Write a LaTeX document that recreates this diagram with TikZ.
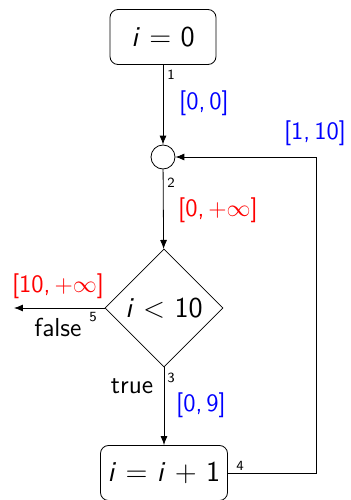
\documentclass[tikz,border=0pt]{standalone}
\usepackage{amsmath, amssymb}
\usepackage{tikz}
\usetikzlibrary{arrows.meta, positioning, calc, shapes.geometric}

\newcommand{\vi}{\textit{i}}

\begin{document}
\sffamily
\begin{tikzpicture}[x=0.5pt, y=0.5pt, >={Latex[length=4.5pt, width=3.5pt]}]
  \tikzset{
    stmt/.style={draw, rounded corners=4pt, font=\Large, minimum height=27.5pt, inner xsep=1pt},
    junction/.style={draw, circle, minimum size=12pt, inner sep=0pt},
    test/.style={draw, diamond, aspect=1, minimum size=59pt, inner sep=0pt, font=\Large},
    num/.style={font=\scriptsize},
    rng/.style={font=\fontsize{12.5}{14}\selectfont},
    branch/.style={font=\fontsize{13}{15}\selectfont},
  }
  \useasboundingbox (0,0) rectangle (350,500);
  % statements
  \node[stmt, minimum width=53pt] (init) at (163,463) {\vi{} $=$ 0};
  \node[junction] (join) at (163,343) {};
  \node[test] (cond) at (164,192) {\vi{} $<$ 10};
  \node[stmt, minimum width=63.5pt] (incr) at (164,27) {\vi{} $=$ \vi{} $+$ 1};
  \coordinate (exit) at (14,192);
  \coordinate (bl) at (316,27);
  \coordinate (tl) at (316,343);
  % edges
  \draw[->] (init) -- (join);
  \draw[->] (join) -- (cond);
  \draw[->] (cond) -- (incr);
  \draw[->] (cond.west) -- (exit);
  \draw[->] (incr.east) -- (bl) -- (tl) -- (join);
  % edge numbers
  \node[num] (e1) at (171,425) {1};
  \node[num] (e2) at (171,317) {2};
  \node[num] (e3) at (171,122) {3};
  \node[num] (e4) at (240,34) {4};
  \node[num] (e5) at (93,183) {5};
  % branch labels
  \node[branch] (lfalse) at (58,173) {false};
  \node[branch] (ltrue) at (132,114) {true};
  % intervals
  \node[rng, blue] (r1) at (204,397) {[0,\,0]};
  \node[rng, red] (r2) at (218,290) {[0,\,$+\infty$]};
  \node[rng, blue] (r3) at (201,95) {[0,\,9]};
  \node[rng, blue] (r4) at (315,367) {[1,\,10]};
  \node[rng, red] (r5) at (58,214) {[10,\,$+\infty$]};
\end{tikzpicture}
\end{document}
